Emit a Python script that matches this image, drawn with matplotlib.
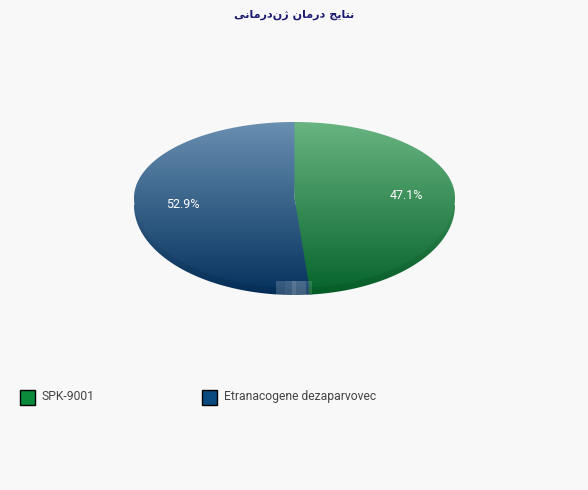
import numpy as np
import matplotlib as mpl; mpl.use('Agg')
import matplotlib.pyplot as plt
from matplotlib.colors import LinearSegmentedColormap
from matplotlib.patches import Polygon, Rectangle

names = ['SPK-9001', 'Etranacogene dezaparvovec']
shares = [47.1, 52.9]
labels = ['47.1%', '52.9%']
legend_colors = ['#0b8a3c', '#0a4a80']
top_grads = [('#6ab582', '#04622a'), ('#6a90b2', '#03305c')]
side_grads = [('#348852', '#045a24'), ('#345c83', '#022c55')]

# presentation forms, matplotlib does not shape arabic by itself
title_words = ['\ufee7\ufe98\ufe8e\ufbfe\ufe9e',
               '\ufea9\ufead\ufee3\ufe8e\ufee5',
               '\ufb8a\ufee5\ufea9\ufead\ufee3\ufe8e\ufee7\ufbfd']
title = ' '.join(w[::-1] for w in title_words[::-1])

BG = '#f8f8f8'
cx, cy = 294.5, 198
a, b_back, b_front, depth = 160.5, 76, 90, 7
gain = 1.03  # the source pie bends its slice border less than a true angle
overlap = 1.0  # blue goes a bit under green, no pale hairline between them


def outline(t0, t1, dy=0):
    t = np.radians(np.linspace(t0, t1, 200))
    c = np.cos(t)
    y = np.where(c > 0, cy - b_back * c, cy - b_front * c)
    return np.column_stack([cx + a * np.sin(t), y + dy])


fig = plt.figure(figsize=(5.88, 4.9), dpi=100, facecolor=BG)
ax = fig.add_axes([0, 0, 1, 1])
ax.set_xlim(0, 588)
ax.set_ylim(490, 0)
ax.axis('off')

total = sum(shares)
first_end = 360 * shares[0] / total * gain
spans = [(0, first_end), (first_end - overlap, 360 + overlap)]
grad_ext = [cx - a - 2, cx + a + 2, cy + b_front + depth + 2, cy - b_back - 2]
side_ext = [cx - a - 2, cx + a + 2, cy + b_front + depth + 2, cy + depth]
ramp = np.linspace(0, 1, 256).reshape(-1, 1)

for i in [1, 0]:
    t0, t1 = spans[i]
    # side band, only a little darker than the face above it
    pts = outline(t0, t1, depth)
    patch = Polygon(np.vstack([pts, [[cx, cy + depth]]]), closed=True, fc='none', ec='none')
    ax.add_patch(patch)
    im = ax.imshow(ramp, extent=side_ext, aspect='auto', zorder=1,
                   cmap=LinearSegmentedColormap.from_list('s', side_grads[i]))
    im.set_clip_path(patch)
    # top face
    pts = outline(t0, t1)
    patch = Polygon(np.vstack([pts, [[cx, cy]]]), closed=True, fc='none', ec='none')
    ax.add_patch(patch)
    im = ax.imshow(ramp, extent=grad_ext, aspect='auto', zorder=2,
                   cmap=LinearSegmentedColormap.from_list('t', top_grads[i]))
    im.set_clip_path(patch)

ax.set_xlim(0, 588)
ax.set_ylim(490, 0)

# pale smudge at the bottom of the pie
for x0, w, al in [(276, 9, .18), (285, 7, .22), (292, 4, .32), (296, 10, .25), (306, 6, .14)]:
    ax.add_patch(Rectangle((x0, 281), w, 14, fc='white', ec='none', alpha=al, zorder=3))

font = ['Roboto', 'DejaVu Sans']
ax.text(406, 195, labels[0], color='white', fontsize=9, family=font,
        ha='center', va='center', zorder=4)
ax.text(183, 204.5, labels[1], color='white', fontsize=9, family=font,
        ha='center', va='center', zorder=4)

ax.text(294, 15, title, color='#1a1a6e', fontsize=8, family='DejaVu Sans', weight='bold',
        ha='center', va='center')

for x0, name, col in zip([20, 202], names, legend_colors):
    ax.add_patch(Rectangle((x0, 390), 15, 15, fc=col, ec='black', lw=1))
    ax.text(x0 + 22, 396, name, color='#444444', fontsize=8.7, family=font,
            ha='left', va='center')

fig.savefig('out.png', dpi=100, facecolor=BG)
